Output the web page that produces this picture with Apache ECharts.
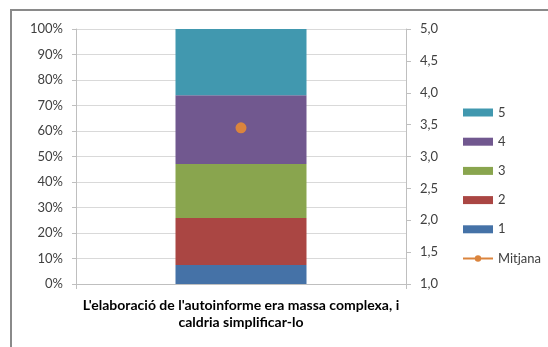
<!DOCTYPE html>
<html><head><meta charset="utf-8">
<script src="https://cdn.jsdelivr.net/npm/echarts@6/dist/echarts.min.js"></script>
<style>html,body{margin:0;padding:0;background:#fff}#c{width:548px;height:347px}</style>
</head><body><div id="c"></div>
<script>
const categories = ["L'elaboració de l'autoinforme era massa complexa, i\ncaldria simplificar-lo"];
const seriesNames = ['1', '2', '3', '4', '5'];
const shares = [[7.5], [18.4], [21.2], [26.9], [26.0]];
const meanName = 'Mitjana';
const meanValues = [3.45];
const leftTicks = ['0%', '10%', '20%', '30%', '40%', '50%', '60%', '70%', '80%', '90%', '100%'];
const colors = ['#4572A7', '#AA4643', '#89A54E', '#71588F', '#4198AF'];
const meanColor = '#DB843D';
const font = 'Lato';

const chart = echarts.init(document.getElementById('c'), null, {renderer: 'canvas'});
const barSeries = seriesNames.map((n, i) => ({
  name: n, type: 'bar', stack: 'tot', data: shares[i], barWidth: 131,
  itemStyle: {color: colors[i]}, xAxisIndex: 0, yAxisIndex: 0
}));
chart.setOption({
  animation: false,
  textStyle: {fontFamily: font},
  graphic: [{type: 'rect', shape: {x: 11, y: 10, width: 560, height: 360},
    style: {fill: 'none', stroke: '#8a8a8a', lineWidth: 2}}],
  grid: {left: 76, right: 142, top: 29, bottom: 63, containLabel: false},
  legend: {
    orient: 'vertical', left: 462, top: 106, padding: 0,
    itemWidth: 30, itemHeight: 8, itemGap: 16.2,
    textStyle: {fontFamily: font, fontSize: 13, color: '#404040', lineHeight: 12},
    data: [
      {name: '5', icon: 'rect'}, {name: '4', icon: 'rect'}, {name: '3', icon: 'rect'},
      {name: '2', icon: 'rect'}, {name: '1', icon: 'rect'}, {name: meanName}
    ]
  },
  xAxis: {
    type: 'category', data: categories,
    axisLine: {lineStyle: {color: '#bfbfbf'}},
    axisTick: {show: true, length: 5, lineStyle: {color: '#bfbfbf'}},
    axisLabel: {fontFamily: font, fontWeight: 'bold', fontSize: 14, color: '#000', margin: 13, lineHeight: 17}
  },
  yAxis: [{
    type: 'value', min: 0, max: 100, interval: 10,
    axisLine: {show: true, lineStyle: {color: '#bfbfbf'}},
    axisTick: {show: true, length: 4, lineStyle: {color: '#bfbfbf'}},
    splitLine: {show: true, lineStyle: {color: '#d9d9d9'}},
    axisLabel: {fontFamily: font, fontSize: 13, color: '#404040', margin: 13,
      formatter: v => leftTicks[Math.round(v / 10)]}
  }, {
    type: 'value', min: 1, max: 5, interval: 0.5, position: 'right',
    axisLine: {show: true, lineStyle: {color: '#bfbfbf'}},
    axisTick: {show: true, length: 5, lineStyle: {color: '#bfbfbf'}},
    splitLine: {show: false},
    axisLabel: {fontFamily: font, fontSize: 13, color: '#404040', margin: 14,
      formatter: v => v.toFixed(1).replace('.', ',')}
  }],
  series: barSeries.concat([{
    name: meanName, type: 'line', data: meanValues, yAxisIndex: 1,
    symbol: 'circle', symbolSize: 11, z: 10,
    itemStyle: {color: meanColor}, lineStyle: {color: meanColor, width: 2.5}
  }])
});
</script></body></html>
